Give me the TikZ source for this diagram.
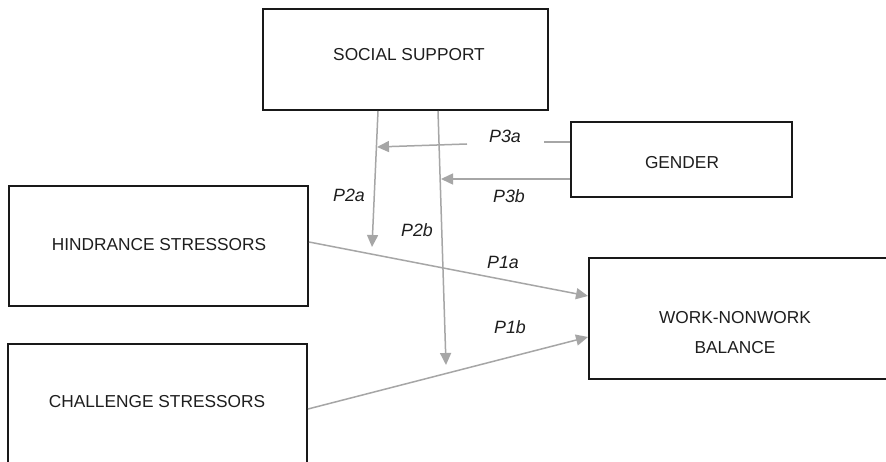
\documentclass[tikz,border=0pt]{standalone}
\usepackage{fontspec}
\setmainfont{Liberation Sans}
\usetikzlibrary{arrows.meta,calc}
\definecolor{arrgray}{HTML}{A6A6A6}
\definecolor{txt}{HTML}{1E1E1E}
\tikzset{
  boxnode/.style={draw=black!90, line width=2pt, fill=white, inner sep=0pt},
  lbl/.style={inner sep=0pt, text=txt, font=\fontsize{17.3}{20}\selectfont},
  plbl/.style={inner sep=0pt, text=txt, font=\fontsize{17.8}{20}\selectfont\itshape},
  conn/.style={draw=arrgray, line width=1.5pt},
  arr/.style={conn, -{Triangle[length=12pt,width=11pt]}},
}
\begin{document}
\begin{tikzpicture}[x=1pt,y=-1pt]
\useasboundingbox[fill=white] (0,0) rectangle (886,462);
% boxes
\node[boxnode, minimum width=285, minimum height=101] (ss) at (405.5,59.5) {};
\node[lbl] (sst) at (409,55) {SOCIAL SUPPORT};
\node[boxnode, minimum width=221, minimum height=75] (gen) at (681.5,159.5) {};
\node[lbl] (gent) at (682,163) {GENDER};
\node[boxnode, minimum width=299, minimum height=120] (hs) at (158.5,246) {};
\node[lbl] (hst) at (159,245) {HINDRANCE STRESSORS};
\node[boxnode, minimum width=299, minimum height=124] (cs) at (157.5,406) {};
\node[lbl] (cst) at (157,402) {CHALLENGE STRESSORS};
\node[boxnode, minimum width=306, minimum height=121] (wnb) at (742,318.5) {};
\node[lbl, align=center, font=\fontsize{17.3}{30}\selectfont] (wnbt) at (735,333) {WORK-NONWORK\\BALANCE};
% free ends
\coordinate (p2aend) at (372,247);
\coordinate (p2bend) at (446,365);
\coordinate (p3agap) at (544,142);
\coordinate (p3astart) at (467,144);
\coordinate (p3aend) at (377,147);
\coordinate (p3bend) at (441,179);
% connectors
\draw[arr] ($(ss.south west)+(116,0)$) -- (p2aend);
\draw[arr] ($(ss.south west)+(176,0)$) -- (p2bend);
\draw[conn] (gen.west |- p3agap) -- (p3agap);
\draw[arr] (p3astart) -- (p3aend);
\draw[arr] (gen.west |- p3bend) -- (p3bend);
\draw[arr] ($(hs.north east)+(0,57)$) -- ($(wnb.north west)+(0,39)$);
\draw[arr] ($(cs.north east)+(0,66)$) -- ($(wnb.north west)+(0,80)$);
% labels
\node[plbl] (l3a) at (505,136) {P3a};
\node[plbl] (l3b) at (509,196) {P3b};
\node[plbl] (l2a) at (349,195) {P2a};
\node[plbl] (l2b) at (417,230) {P2b};
\node[plbl] (l1a) at (503,262) {P1a};
\node[plbl] (l1b) at (510,327) {P1b};
\end{tikzpicture}
\end{document}
